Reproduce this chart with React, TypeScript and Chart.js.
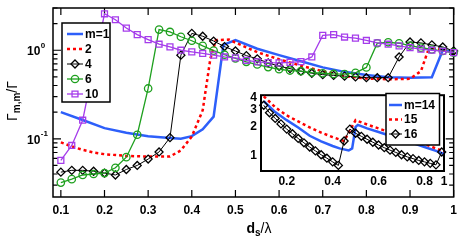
import React, { useEffect, useRef } from 'react';
import { Chart, registerables } from 'chart.js';
Chart.register(...registerables);

// ---------- main plot data ----------
const xGrid = [0.1, 0.125, 0.15, 0.175, 0.2, 0.225, 0.25, 0.275, 0.3, 0.325, 0.35, 0.375, 0.4, 0.425, 0.45, 0.475, 0.5, 0.525, 0.55, 0.575, 0.6, 0.625, 0.65, 0.675, 0.7, 0.725, 0.75, 0.775, 0.8, 0.825, 0.85, 0.875, 0.9, 0.925, 0.95, 0.975, 1.0];
const m1X = [0.1, 0.15, 0.2, 0.25, 0.3, 0.35, 0.375, 0.4, 0.425, 0.45, 0.4725, 0.5, 0.55, 0.6, 0.65, 0.7, 0.75, 0.8, 0.85, 0.9, 0.95, 0.975, 1.0];
const m1Y = [0.2, 0.163, 0.132, 0.117, 0.107, 0.102, 0.1, 0.107, 0.128, 0.178, 1.15, 1.3, 1.04, 0.88, 0.75, 0.64, 0.57, 0.525, 0.495, 0.49, 0.495, 1.0, 0.96];
const m2X = [0.1, 0.125, 0.15, 0.175, 0.2, 0.25, 0.3, 0.35, 0.375, 0.4, 0.425, 0.4425, 0.455, 0.485, 0.5, 0.55, 0.6, 0.65, 0.7, 0.75, 0.8, 0.85, 0.9, 0.925, 0.94, 0.955, 1.0];
const m2Y = [0.091, 0.082, 0.075, 0.07, 0.067, 0.064, 0.063, 0.063, 0.074, 0.106, 0.21, 0.8, 1.3, 1.32, 1.22, 0.95, 0.79, 0.67, 0.58, 0.51, 0.48, 0.47, 0.475, 0.58, 0.95, 1.03, 1.0];
const m4Y = [0.042, 0.044, 0.044, 0.043, 0.041, 0.039, 0.045, 0.05, 0.059, 0.071, 0.103, 0.88, 1.55, 1.44, 1.27, 1.1, 0.98, 0.87, 0.8, 0.72, 0.66, 0.62, 0.58, 0.55, 0.53, 0.52, 0.51, 0.5, 0.49, 0.49, 0.49, 0.84, 1.24, 1.21, 1.15, 1.09, 0.98];
const m6Y = [0.032, 0.035, 0.039, 0.04, 0.041, 0.047, 0.062, 0.111, 0.37, 1.71, 1.61, 1.42, 1.28, 1.12, 0.99, 0.89, 0.81, 0.74, 0.69, 0.645, 0.61, 0.59, 0.58, 0.56, 0.55, 0.54, 0.537, 0.555, 0.64, 1.2, 1.23, 1.2, 1.13, 1.07, 1.02, 0.98, 0.94];
const m10Y = [0.057, 0.084, 0.162, 0.65, 2.58, 2.21, 1.78, 1.5, 1.32, 1.17, 1.09, 1.0, 0.957, 0.92, 0.88, 0.84, 0.82, 0.77, 0.74, 0.725, 0.72, 0.73, 0.745, 0.84, 1.47, 1.5, 1.41, 1.37, 1.29, 1.21, 1.17, 1.12, 1.07, 1.03, 1.0, 0.975, 0.94];
const mainLabels = ['m=1', '2', '4', '6', '10'];
const xTicks = [0.1, 0.2, 0.3, 0.4, 0.5, 0.6, 0.7, 0.8, 0.9, 1.0];
const xTickLabels = ['0.1', '0.2', '0.3', '0.4', '0.5', '0.6', '0.7', '0.8', '0.9', '1'];
const yMajorTicks = [0.1, 1];
const yMajorExp = ['-1', '0'];
const yMinorTicks = [0.03, 0.04, 0.05, 0.06, 0.07, 0.08, 0.09, 0.2, 0.3, 0.4, 0.5, 0.6, 0.7, 0.8, 0.9, 2, 3];

// ---------- inset data ----------
const insetGrid = [0.1, 0.125, 0.15, 0.175, 0.2, 0.225, 0.25, 0.275, 0.3, 0.325, 0.35, 0.375, 0.4, 0.425, 0.45, 0.475, 0.5, 0.525, 0.55, 0.575, 0.6, 0.625, 0.65, 0.675, 0.7, 0.725, 0.75, 0.775, 0.8, 0.825, 0.85, 0.875];
const m16Y = [3.35, 2.8, 2.45, 2.15, 1.9, 1.7, 1.52, 1.37, 1.24, 1.13, 1.03, 0.95, 0.87, 0.8, 1.43, 1.9, 1.72, 1.6, 1.49, 1.39, 1.3, 1.22, 1.15, 1.09, 1.03, 0.98, 0.94, 0.9, 0.87, 0.84, 0.81, 1.1];
const m14X = [0.1, 0.15, 0.2, 0.25, 0.3, 0.35, 0.4, 0.43, 0.47, 0.485, 0.5, 0.51, 0.55, 0.6, 0.65, 0.7, 0.75, 0.8, 0.85, 0.885];
const m14Y = [3.7, 2.85, 2.35, 1.97, 1.62, 1.42, 1.27, 1.2, 1.14, 1.2, 2.0, 2.1, 1.93, 1.77, 1.62, 1.48, 1.36, 1.24, 1.13, 1.05];
const m15X = [0.1, 0.15, 0.2, 0.25, 0.3, 0.35, 0.4, 0.45, 0.5, 0.55, 0.6, 0.65, 0.7, 0.75, 0.8, 0.85, 0.885];
const m15Y = [4.15, 3.2, 2.63, 2.28, 1.98, 1.75, 1.57, 1.43, 2.35, 2.12, 1.93, 1.76, 1.6, 1.46, 1.33, 1.2, 1.12];
const insetLabels = ['m=14', '15', '16'];
const insetXTicks = [0.2, 0.4, 0.6, 0.8, 0.885];
const insetXTickLabels = ['0.2', '0.4', '0.6', '0.8', '1'];
const insetYTicks = [1, 2, 3, 4];

// ---------- styles ----------
const FONT = "'Liberation Sans', Arial, Helvetica, sans-serif";
const BLUE = 'rgb(45,95,250)';
const RED = 'rgb(255,0,0)';
const GREEN = 'rgb(30,160,30)';
const PURPLE = 'rgb(165,60,235)';
const NONE = 'rgba(0,0,0,0)';

const pts = (xs: number[], ys: number[]) => xs.map((x, i) => ({ x, y: ys[i] }));

function drawMarker(ctx: CanvasRenderingContext2D, style: string, x: number, y: number, r: number) {
  ctx.beginPath();
  if (style === 'circle') ctx.arc(x, y, r, 0, Math.PI * 2);
  else if (style === 'rect') {
    const s = r * Math.SQRT1_2;
    ctx.rect(x - s, y - s, 2 * s, 2 * s);
  } else {
    ctx.moveTo(x - r, y);
    ctx.lineTo(x, y - r);
    ctx.lineTo(x + r, y);
    ctx.lineTo(x, y + r);
    ctx.closePath();
  }
  ctx.stroke();
}

function legendPlugin(id: string, box: any, rows: number[], labels: string[], sx0: number, sx1: number, tx: number) {
  return {
    id,
    afterDraw(chart: any) {
      const ctx = chart.ctx as CanvasRenderingContext2D;
      ctx.save();
      ctx.fillStyle = '#fff';
      ctx.fillRect(box.x, box.y, box.w, box.h);
      ctx.strokeStyle = '#000';
      ctx.lineWidth = 1.5;
      ctx.strokeRect(box.x, box.y, box.w, box.h);
      chart.data.datasets.forEach((ds: any, i: number) => {
        const y = rows[i];
        ctx.strokeStyle = ds.borderColor;
        ctx.lineWidth = ds.borderWidth;
        ctx.setLineDash(ds.borderDash || []);
        ctx.beginPath();
        ctx.moveTo(sx0, y);
        ctx.lineTo(sx1, y);
        ctx.stroke();
        ctx.setLineDash([]);
        if (ds.pointRadius > 0) {
          ctx.lineWidth = ds.pointBorderWidth;
          ctx.strokeStyle = ds.pointBorderColor;
          drawMarker(ctx, ds.pointStyle, (sx0 + sx1) / 2, y, ds.pointRadius);
        }
        ctx.fillStyle = '#000';
        ctx.font = `bold 12px ${FONT}`;
        ctx.textAlign = 'left';
        ctx.textBaseline = 'middle';
        ctx.fillText(labels[i], tx, y + 0.5);
      });
      ctx.restore();
    },
  };
}

function drawParts(ctx: CanvasRenderingContext2D, parts: { t: string; f: string; dy: number }[], cx: number, baseY: number) {
  let total = 0;
  parts.forEach((p) => {
    ctx.font = p.f;
    total += ctx.measureText(p.t).width;
  });
  let x = cx - total / 2;
  ctx.textAlign = 'left';
  ctx.textBaseline = 'alphabetic';
  parts.forEach((p) => {
    ctx.font = p.f;
    ctx.fillText(p.t, x, baseY + p.dy);
    x += ctx.measureText(p.t).width;
  });
}

const mainDecor = {
  id: 'mainDecor',
  beforeDatasetsDraw(chart: any) {
    const ctx = chart.ctx as CanvasRenderingContext2D;
    const { left, right, top, bottom } = chart.chartArea;
    const xs = chart.scales.x;
    const ys = chart.scales.y;
    ctx.save();
    ctx.strokeStyle = '#000';
    ctx.lineWidth = 1.5;
    ctx.strokeRect(left, top, right - left, bottom - top);
    ctx.lineWidth = 1.2;
    ctx.beginPath();
    xTicks.forEach((v) => {
      const p = xs.getPixelForValue(v);
      ctx.moveTo(p, bottom);
      ctx.lineTo(p, bottom - 7);
      ctx.moveTo(p, top);
      ctx.lineTo(p, top + 7);
    });
    yMajorTicks.forEach((v) => {
      const p = ys.getPixelForValue(v);
      ctx.moveTo(left, p);
      ctx.lineTo(left + 8, p);
      ctx.moveTo(right, p);
      ctx.lineTo(right - 8, p);
    });
    yMinorTicks.forEach((v) => {
      const p = ys.getPixelForValue(v);
      ctx.moveTo(left, p);
      ctx.lineTo(left + 4.5, p);
      ctx.moveTo(right, p);
      ctx.lineTo(right - 4.5, p);
    });
    ctx.stroke();
    ctx.restore();
  },
  afterDraw(chart: any) {
    const ctx = chart.ctx as CanvasRenderingContext2D;
    const ys = chart.scales.y;
    ctx.save();
    ctx.fillStyle = '#000';
    yMajorTicks.forEach((v, i) => {
      const p = ys.getPixelForValue(v);
      ctx.font = `bold 12px ${FONT}`;
      ctx.textAlign = 'left';
      ctx.textBaseline = 'middle';
      ctx.fillText('10', 27, p + 1.5);
      const w = ctx.measureText('10').width;
      ctx.font = `bold 8px ${FONT}`;
      ctx.fillText(yMajorExp[i], 27 + w + 0.5, p - 4.5);
    });
    // x title
    drawParts(ctx, [
      { t: 'd', f: `bold 14px ${FONT}`, dy: 0 },
      { t: 's', f: `bold 10px ${FONT}`, dy: 3 },
      { t: '/λ', f: `14px ${FONT}`, dy: 0 },
    ], 259, 233);
    // y title
    ctx.translate(16.5, 101);
    ctx.rotate(-Math.PI / 2);
    drawParts(ctx, [
      { t: 'Γ', f: `14px ${FONT}`, dy: 0 },
      { t: 'm,m', f: `bold 10px ${FONT}`, dy: 3.5 },
      { t: '/Γ', f: `14px ${FONT}`, dy: 0 },
    ], 0, 0);
    ctx.restore();
  },
};

const insetDecor = {
  id: 'insetDecor',
  beforeDraw(chart: any) {
    const ctx = chart.ctx as CanvasRenderingContext2D;
    const { left, right, top, bottom } = chart.chartArea;
    ctx.save();
    ctx.fillStyle = '#fff';
    ctx.fillRect(left - 1, top - 1, right - left + 2, bottom - top + 2);
    ctx.restore();
  },
  beforeDatasetsDraw(chart: any) {
    const ctx = chart.ctx as CanvasRenderingContext2D;
    const { left, right, top, bottom } = chart.chartArea;
    ctx.save();
    ctx.strokeStyle = '#000';
    ctx.lineWidth = 2;
    ctx.strokeRect(left, top, right - left, bottom - top);
    ctx.restore();
  },
};

const tickFont = { family: FONT, size: 12, weight: 'bold' as const };

// inset canvas offset inside the page
const INSET_LEFT = 230;
const INSET_TOP = 84;

export default function App() {
  const mainRef = useRef<HTMLCanvasElement>(null);
  const insetRef = useRef<HTMLCanvasElement>(null);

  useEffect(() => {
    const common = { tension: 0, fill: false, clip: false as any };
    const main = new Chart(mainRef.current!, {
      type: 'line',
      data: {
        datasets: [
          { ...common, label: mainLabels[0], data: pts(m1X, m1Y), borderColor: BLUE, borderWidth: 2.5, pointRadius: 0, order: 4 },
          { ...common, label: mainLabels[1], data: pts(m2X, m2Y), borderColor: RED, borderWidth: 2.5, borderDash: [3, 3], pointRadius: 0, order: 3 },
          { ...common, label: mainLabels[2], data: pts(xGrid, m4Y), borderColor: '#000', borderWidth: 1, pointStyle: 'rectRot', pointRadius: 4, pointBorderWidth: 1.3, pointBorderColor: '#000', pointBackgroundColor: NONE, order: 2 },
          { ...common, label: mainLabels[3], data: pts(xGrid, m6Y), borderColor: GREEN, borderWidth: 1.3, pointStyle: 'circle', pointRadius: 3.7, pointBorderWidth: 1.3, pointBorderColor: GREEN, pointBackgroundColor: NONE, order: 1 },
          { ...common, label: mainLabels[4], data: pts(xGrid, m10Y), borderColor: PURPLE, borderWidth: 1.3, pointStyle: 'rect', pointRadius: 4.2, pointBorderWidth: 1.3, pointBorderColor: PURPLE, pointBackgroundColor: NONE, order: 0 },
        ] as any,
      },
      options: {
        responsive: false,
        animation: false,
        devicePixelRatio: 1,
        events: [],
        layout: { padding: { top: 8, right: 8, left: 0, bottom: 0 } },
        plugins: { legend: { display: false }, tooltip: { enabled: false } },
        scales: {
          x: {
            type: 'linear', min: 0.082, max: 1.0,
            afterFit: (s: any) => { s.height = 48; },
            afterBuildTicks: (s: any) => { s.ticks = xTicks.map((v) => ({ value: v })); },
            ticks: { callback: (_v: any, i: number) => xTickLabels[i], font: tickFont, color: '#000', padding: 6, maxRotation: 0, autoSkip: false },
            grid: { display: false, drawTicks: false },
            border: { display: false },
          },
          y: {
            type: 'logarithmic', min: 0.022, max: 3,
            afterFit: (s: any) => { s.width = 53; },
            ticks: { display: false },
            grid: { display: false, drawTicks: false },
            border: { display: false },
          },
        } as any,
      },
      plugins: [mainDecor, legendPlugin('mainLegend', { x: 62, y: 23, w: 48, h: 79 }, [34, 49, 64, 79, 94], mainLabels, 67, 83, 85)],
    });

    const inset = new Chart(insetRef.current!, {
      type: 'line',
      data: {
        datasets: [
          { ...common, label: insetLabels[0], data: pts(m14X, m14Y), borderColor: BLUE, borderWidth: 2.5, pointRadius: 0, order: 2 },
          { ...common, label: insetLabels[1], data: pts(m15X, m15Y), borderColor: RED, borderWidth: 2.5, borderDash: [3, 3], pointRadius: 0, order: 1 },
          { ...common, label: insetLabels[2], data: pts(insetGrid, m16Y), borderColor: '#000', borderWidth: 1, pointStyle: 'rectRot', pointRadius: 4, pointBorderWidth: 1.3, pointBorderColor: '#000', pointBackgroundColor: NONE, order: 0 },
        ] as any,
      },
      options: {
        responsive: false,
        animation: false,
        devicePixelRatio: 1,
        events: [],
        layout: { padding: { top: 8, right: 11, left: 0, bottom: 0 } },
        plugins: { legend: { display: false }, tooltip: { enabled: false } },
        scales: {
          x: {
            type: 'linear', min: 0.088, max: 0.885,
            afterFit: (s: any) => { s.height = 21; },
            afterBuildTicks: (s: any) => { s.ticks = insetXTicks.map((v) => ({ value: v })); },
            ticks: { callback: (_v: any, i: number) => insetXTickLabels[i], font: tickFont, color: '#000', padding: 3, maxRotation: 0, autoSkip: false },
            grid: { display: false, drawTicks: false },
            border: { display: false },
          },
          y: {
            type: 'logarithmic', min: 0.71, max: 4.26,
            afterFit: (s: any) => { s.width = 31; },
            afterBuildTicks: (s: any) => { s.ticks = insetYTicks.map((v) => ({ value: v })); },
            ticks: { callback: (v: any) => String(v), font: tickFont, color: '#000', padding: 4, autoSkip: false },
            grid: { display: false, drawTicks: false },
            border: { display: false },
          },
        } as any,
      },
      plugins: [
        insetDecor,
        legendPlugin(
          'insetLegend',
          { x: 386 - INSET_LEFT, y: 93.5 - INSET_TOP, w: 53.5, h: 51.5 },
          [105 - INSET_TOP, 119.5 - INSET_TOP, 134 - INSET_TOP],
          insetLabels,
          389 - INSET_LEFT, 402 - INSET_LEFT, 404 - INSET_LEFT,
        ),
      ],
    });

    return () => {
      main.destroy();
      inset.destroy();
    };
  }, []);

  return (
    <div style={{ position: 'absolute', left: 0, top: 0, width: 463, height: 245, background: '#fff' }}>
      <canvas ref={mainRef} width={463} height={245} style={{ position: 'absolute', left: 0, top: 0, width: 463, height: 245 }} />
      <canvas ref={insetRef} width={225} height={108} style={{ position: 'absolute', left: INSET_LEFT, top: INSET_TOP, width: 225, height: 108 }} />
    </div>
  );
}
